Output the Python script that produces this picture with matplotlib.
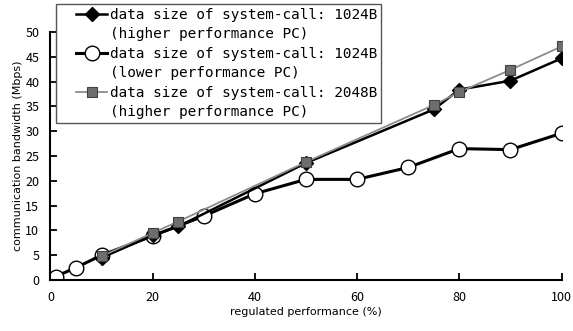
import matplotlib
matplotlib.use("Agg")
import matplotlib.pyplot as plt
from matplotlib.lines import Line2D
from matplotlib.legend_handler import HandlerLine2D

# regulated performance (%) and bandwidth (Mbps)
x_high = [10, 20, 25, 50, 75, 80, 90, 100]
bw_high_1024 = [4.5, 9.0, 10.8, 23.6, 34.4, 38.4, 40.2, 44.7]

x_low = [1, 5, 10, 20, 30, 40, 50, 60, 70, 80, 90, 100]
bw_low_1024 = [0.7, 2.5, 5.0, 8.9, 12.9, 17.4, 20.3, 20.3, 22.7, 26.5, 26.3, 29.6]

bw_high_2048 = [4.8, 9.5, 11.8, 23.8, 35.3, 37.9, 42.4, 47.1]

labels = ["data size of system-call: 1024B", "(higher performance PC)",
          "data size of system-call: 1024B", "(lower performance PC)",
          "data size of system-call: 2048B", "(higher performance PC)"]


class ShiftedHandler(HandlerLine2D):
    # leaves an empty gap left of the legend line, like the original
    def create_artists(self, legend, orig_handle, xdescent, ydescent,
                       width, height, fontsize, trans):
        gap = 12
        return super().create_artists(legend, orig_handle, xdescent - gap,
                                      ydescent, width - gap, height,
                                      fontsize, trans)


fig = plt.figure(figsize=(5.73, 3.31), dpi=100)
ax = fig.add_axes([0.088, 0.154, 0.892, 0.749])

h2, = ax.plot(x_low, bw_low_1024, color="black", lw=2.2, marker="o",
              ms=10.5, mfc="white", mec="black", mew=1.0, zorder=2)
h1, = ax.plot(x_high, bw_high_1024, color="black", lw=1.8, marker="D",
              ms=7.5, mfc="black", mec="black", zorder=3)
h3, = ax.plot(x_high, bw_high_2048, color="#8c8c8c", lw=1.3, marker="s",
              ms=7, mfc="#6e6e6e", mec="#404040", mew=0.8, zorder=4)

ax.set_xlim(0, 100)
ax.set_ylim(0, 50)
ax.set_xticks(range(0, 101, 20))
ax.set_yticks(range(0, 51, 5))
ax.spines["top"].set_visible(False)
ax.spines["right"].set_visible(False)
ax.spines["left"].set_linewidth(1.5)
ax.spines["bottom"].set_linewidth(1.5)
ax.tick_params(direction="in", length=5, width=1.3, pad=8, labelsize=9)
for lab in ax.get_xticklabels() + ax.get_yticklabels():
    lab.set_family("Noto Sans CJK JP")

ax.set_xlabel("regulated performance (%)", fontsize=8, labelpad=2)
ax.set_ylabel("communication bandwidth (Mbps)", fontsize=8, labelpad=2)

blank = Line2D([], [], color="none")
hmap = {h1: ShiftedHandler(), h2: ShiftedHandler(), h3: ShiftedHandler()}
leg = fig.legend([h1, blank, h2, blank, h3, blank], labels,
                 loc="upper left", bbox_to_anchor=(56 / 573, 1 - 4 / 331),
                 prop={"family": "DejaVu Sans Mono", "size": 10.4},
                 handlelength=3.3, handletextpad=0.2, labelspacing=0.38,
                 borderpad=0.25, borderaxespad=0, fancybox=False,
                 framealpha=1, edgecolor="#555555", handler_map=hmap)
leg.get_frame().set_linewidth(1.0)

fig.savefig("out.png", dpi=100)
